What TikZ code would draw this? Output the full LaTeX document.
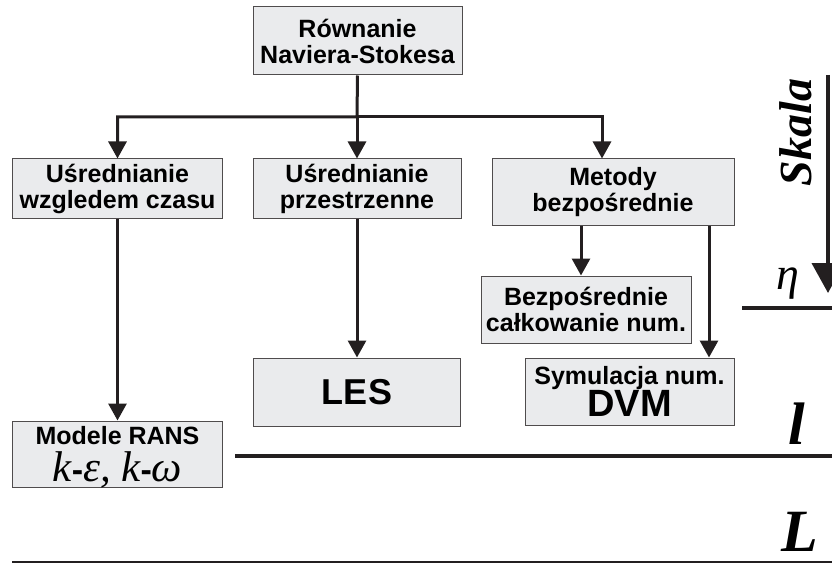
\documentclass[tikz,border=0pt]{standalone}
\usepackage{fontspec}
\setmainfont{Liberation Sans}
\newfontfamily\tnr{Liberation Serif}
\usetikzlibrary{arrows.meta}
\definecolor{boxgray}{RGB}{234,235,237}
\definecolor{ink}{RGB}{35,31,32}

\tikzset{
    box/.style={draw=ink!80, fill=boxgray, line width=1pt, inner sep=0pt, align=center,
        font=\fontsize{25}{26}\selectfont\bfseries},
    arr/.style={draw=ink, line width=3pt, -{Triangle[width=18pt,length=17pt]}},
    scalelabel/.style={inner sep=0pt, font=\tnr\bfseries\itshape\fontsize{60}{60}\selectfont},
}
\newcommand\rmit[1]{{\fontsize{43}{43}\selectfont\tnr\mdseries\itshape #1}}
\newcommand\rmdash{{\fontsize{34}{34}\selectfont-}}

\begin{document}
\begin{tikzpicture}[x=1pt,y=-1pt]
    \useasboundingbox (0,0) rectangle (832,564);
    \node[box, minimum width=209pt, minimum height=68pt] (rown) at (357.5,41) {Równanie\\Naviera-Stokesa};
    \node[box, minimum width=210pt, minimum height=59pt] (czas) at (117.5,188.5) {Uśrednianie\\wzgledem czasu};
    \node[box, minimum width=208pt, minimum height=59pt] (przes) at (357,188.5) {Uśrednianie\\przestrzenne};
    \node[box, minimum width=242pt, minimum height=66pt] (metody) at (613,192) {Metody\\bezpośrednie};
    \node[box, minimum width=210pt, minimum height=67pt] (bezp) at (586,309.5) {Bezpośrednie\\całkowanie num.};
    \node[box, minimum width=209pt, minimum height=67pt] (symul) at (629.5,391.5)
        {Symulacja num.\\{\fontsize{38}{38}\selectfont DVM}};
    \node[box, minimum width=207pt, minimum height=68pt, font=\fontsize{36}{36}\selectfont\bfseries] (les) at (357,392) {LES};
    \node[box, minimum width=210pt, minimum height=66pt] (rans) at (117.5,454)
        {Modele RANS\\[11pt]\smash{\rmit{k}\rmdash\rmit{ε, k}\rmdash\rmit{ω}}};

    \coordinate (split) at (357,117);
    \draw[arr] (rown.south) -- (split) -| (czas.north);
    \draw[arr] (split) -- (przes.north);
    \draw[arr] (split) -| ([xshift=-11pt]metody.north);
    \draw[arr] (czas.south) -- (rans.north);
    \draw[arr] (przes.south) -- (les.north);
    \draw[arr] ([xshift=-5pt]bezp.north |- metody.south) -- ([xshift=-5pt]bezp.north);
    \draw[arr] ([xshift=79.5pt]symul.north |- metody.south) -- ([xshift=79.5pt]symul.north);

    \coordinate (skalaA) at (828,75);
    \coordinate (skalaB) at (828,293);
    \draw[ink, line width=4pt, -{Triangle[width=32pt,length=30pt]}] (skalaA) -- (skalaB);
    \node[rotate=90, inner sep=0pt, font=\tnr\bfseries\itshape\fontsize{46}{46}\selectfont] (skala) at (796,132.5) {Skala};
    \node[inner sep=0pt, font=\tnr\itshape\fontsize{46}{46}\selectfont] (eta) at (788,283.5) {η};
    \coordinate (etaA) at (742,308);
    \coordinate (etaB) at (832,308);
    \draw[ink, line width=4pt] (etaA) -- (etaB);
    \node[scalelabel] (l) at (797,424) {l};
    \coordinate (lA) at (235,456);
    \coordinate (lB) at (832,456);
    \draw[ink, line width=4.5pt] (lA) -- (lB);
    \node[scalelabel] (L) at (800,532) {L};
    \coordinate (LA) at (12,562);
    \coordinate (LB) at (832,562);
    \draw[ink, line width=2pt] (LA) -- (LB);
\end{tikzpicture}
\end{document}
